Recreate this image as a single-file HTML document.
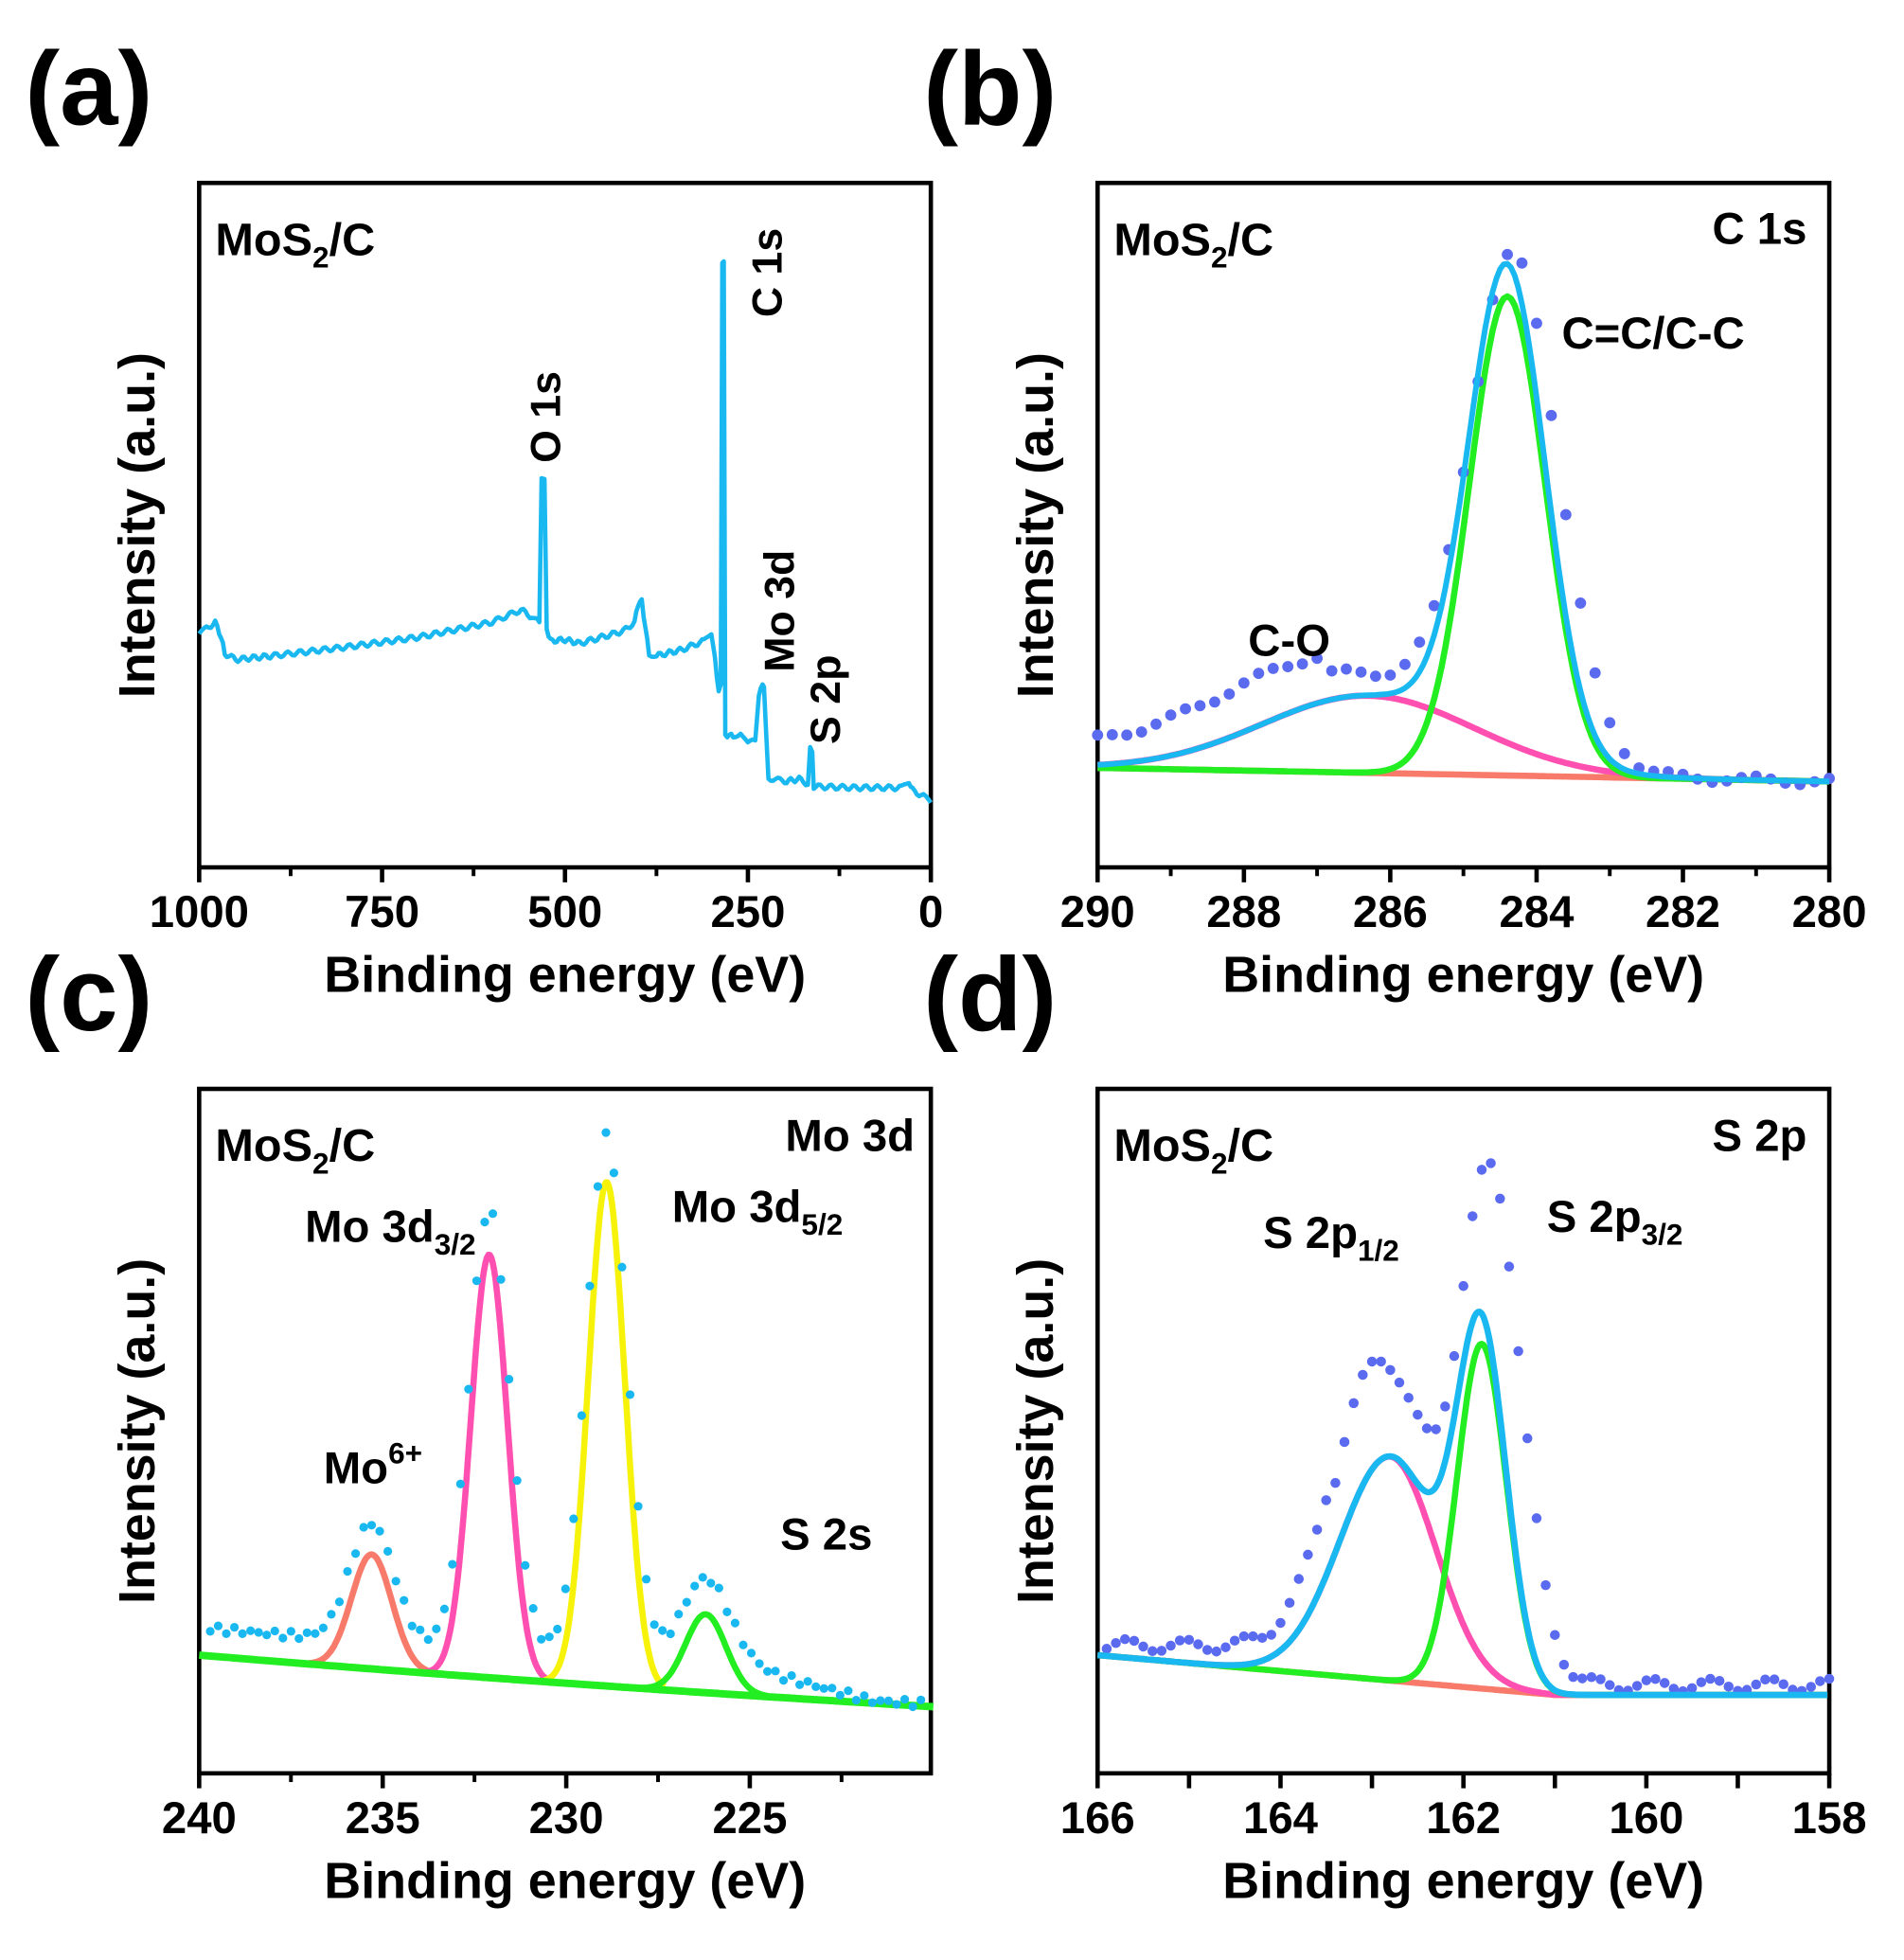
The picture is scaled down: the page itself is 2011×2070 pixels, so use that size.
<!DOCTYPE html>
<html><head><meta charset="utf-8"><style>
html,body{margin:0;padding:0;background:#fff;}
svg{display:block;}
text{font-family:"Liberation Sans",sans-serif;font-weight:bold;fill:#000;}
</style></head><body>
<svg id="s" width="2011" height="2070" viewBox="0 0 1530 1575" xmlns="http://www.w3.org/2000/svg">
<g id="g"></g>
</svg>
<script>
const g=document.getElementById('g');let H='';
function add(s){H+=s;}
function txt(x,y,t,sz,anchor,rot){add(`<text x="${x}" y="${y}" font-size="${sz}" text-anchor="${anchor||'start'}"${rot?` transform="rotate(-90 ${x} ${y})"`:''}>${t}</text>`);}
function poly(pts,col,w){add(`<polyline fill="none" stroke="${col}" stroke-width="${w}" stroke-linejoin="round" points="${pts.map(p=>p[0].toFixed(1)+','+p[1].toFixed(1)).join(' ')}"/>`);}
function dots(pts,col,r){pts.forEach(p=>add(`<circle cx="${p[0].toFixed(1)}" cy="${p[1].toFixed(1)}" r="${r}" fill="${col}"/>`));}
function gau(x,c,s){return Math.exp(-0.5*((x-c)/s)**2);}
function frame(x0,y0,x1,y1,ticks,minor,labels,letter,ly){
 add(`<rect x="${x0}" y="${y0}" width="${x1-x0}" height="${y1-y0}" fill="none" stroke="#000" stroke-width="3.5"/>`);
 ticks.forEach(t=>add(`<line x1="${t}" y1="${y1}" x2="${t}" y2="${y1+12}" stroke="#000" stroke-width="3.5"/>`));
 minor.forEach(t=>add(`<line x1="${t}" y1="${y1}" x2="${t}" y2="${y1+7}" stroke="#000" stroke-width="3"/>`));
 labels.forEach(l=>txt(l[0],y1+48,l[1],36,'middle'));
 txt((x0+x1)/2,y1+100,'Binding energy (eV)',41,'middle');
 txt(x0-36,(y0+y1)/2,'Intensity (a.u.)',41,'middle',true);
 txt(x0-140,ly,letter,84,'start');
 txt(x0+13,y0+58,'MoS<tspan font-size="24" dy="10">2</tspan><tspan dy="-10">/C</tspan>',37);
}
// (a)
frame(160,147,748,697,[160,307,454,601,748],[233.5,380.5,527.5,674.5],[[160,'1000'],[307,'750'],[454,'500'],[601,'250'],[748,'0']],'(a)',100);
let A=[[1000,510],[990,505],[978,500],[970,512],[965,525],[950,530],[900,527],[800,520],[700,512],[600,500],[560,490],[545,496],[535,500],[532,385],[528,385],[525,505],[520,515],[500,514],[480,517],[450,512],[420,507],[405,500],[400,485],[395,483],[390,505],[385,525],[375,527],[340,522],[310,515],[300,508],[295,530],[290,555],[287,550],[285,210],[283,210],[281,590],[270,592],[260,588],[250,598],[240,595],[235,560],[230,548],[228,552],[225,590],[222,625],[200,628],[180,626],[168,630],[165,602],[162,606],[160,632],[100,633],[40,633],[30,628],[25,635],[10,640],[0,645]];
let Ap=[];for(let i=0;i<A.length-1;i++){let [e0,y0]=A[i],[e1,y1]=A[i+1];let n=Math.max(1,Math.round((e0-e1)/3));for(let k=0;k<n;k++){let e=e0+(e1-e0)*k/n,y=y0+(y1-y0)*k/n;if(Math.abs(y1-y0)<30)y+=Math.sin(e*1.7)*2;Ap.push([160+(1000-e)*0.588,y]);}}
Ap.push([748,645]);poly(Ap,'#1ab8f0',3.5);
txt(450,372,'O 1s',34,'start',true);txt(628,255,'C 1s',34,'start',true);txt(638,540,'Mo 3d',34,'start',true);txt(675,598,'S 2p',34,'start',true);
// (b)
frame(882,147,1470,697,[882,999.6,1117.2,1234.8,1352.4,1470],[940.8,1058.4,1176,1293.6,1411.2],[[882,'290'],[999.6,'288'],[1117.2,'286'],[1234.8,'284'],[1352.4,'282'],[1470,'280']],'(b)',100);
{let X=e=>882+(290-e)*58.8;let bg=e=>617+(290-e)*1.1;let G=[],P=[],B=[],E=[],D=[];
for(let e=290;e>=280-1e-9;e-=0.05){let b=bg(e);let gr=385*gau(e,284.4,0.52);let pk=62*gau(e,286.3,1.45);B.push([X(e),b]);G.push([X(e),b-gr]);P.push([X(e),b-pk]);E.push([X(e),b-gr-pk]);}
for(let e=290;e>=280;e-=0.2){let b=bg(e);let v=b-390*gau(e,284.3,0.6)-80*gau(e,286.6,1.6)-(e>287?15:0);D.push([X(e),v+Math.sin(e*37)*3]);}
poly(B,'#f87a6a',5);poly(P,'#ff4fb0',5);poly(G,'#22ee22',5);dots(D,'#5b6bf0',4.5);poly(E,'#1ab8f0',4.5);}
txt(1452,196,'C 1s',36,'end');txt(1255,280,'C=C/C-C',36);txt(1003,527,'C-O',36);
// (c)
frame(160,875,748,1425,[160,307.5,455,602.5],[233.75,381.25,528.75,676.25],[[160,'240'],[307.5,'235'],[455,'230'],[602.5,'225']],'(c)',828);
{let X=e=>160+(240-e)*29.5;let bg=e=>{let t=(240-e)/18;return 1330+t*44-t*t*6;};let Gb=[],S=[],M6=[],M3=[],M5=[],D=[];
for(let e=240;e>=220;e-=0.04){let b=bg(e);Gb.push([X(e),b]);}
function pk(c,h,s,lo,hi,arr){for(let e=hi;e>=lo;e-=0.04)arr.push([X(e),bg(e)-h*gau(e,c,s)]);}
pk(235.3,92,0.55,233.5,237,M6);pk(232.1,340,0.5,230.5,234,M3);pk(228.9,405,0.5,227.3,230.6,M5);pk(226.2,63,0.55,224.5,228,S);
for(let e=239.7;e>=220.3;e-=0.22){let b=bg(e);let v=b-22-95*gau(e,235.3,0.6)-355*gau(e,232.1,0.55)-420*gau(e,228.9,0.55)-70*gau(e,226.2,0.65)+(e<225?Math.min(20,(225-e)*6):0);D.push([X(e),v+Math.sin(e*41)*3]);}
poly(M6,'#f87a6a',5);poly(M3,'#ff4fb0',5);poly(M5,'#f7f20a',5);poly(S,'#22ee22',5);poly(Gb,'#22ee22',6);dots(D,'#1ab8f0',3.5);}
txt(735,925,'Mo 3d',36,'end');txt(245,998,'Mo 3d<tspan font-size="24" dy="10">3/2</tspan>',36);txt(540,982,'Mo 3d<tspan font-size="24" dy="10">5/2</tspan>',36);txt(260,1192,'Mo<tspan font-size="24" dy="-16">6+</tspan>',36);txt(627,1245,'S 2s',36);
// (d)
frame(882,875,1470,1425,[882,955.5,1029,1102.5,1176,1249.5,1323,1396.5,1470],[],[[882,'166'],[1029,'164'],[1176,'162'],[1323,'160'],[1470,'158']],'(d)',828);
{let X=e=>882+(166-e)*73.5;let bg=e=>e>161?1330+(166-e)*6.4:1362;let B=[],P=[],G=[],E=[],D=[];
for(let e=166;e>=158;e-=0.02){let b=bg(e);let s=e>162.8?0.55:0.5;let p=180*gau(e,162.8,s);let gr=277*gau(e,161.8,0.27);B.push([X(e),b]);P.push([X(e),b-p]);G.push([X(e),b-gr]);E.push([X(e),b-p-gr]);}
for(let e=165.9;e>=158;e-=0.1){let b=bg(e);let v=b-8-Math.max(0,(166-e))*6*(e>163.5?1:0)-250*gau(e,162.9,0.5)-400*gau(e,161.7,0.33);D.push([X(e),v+Math.sin(e*53)*5]);}
poly(B,'#f87a6a',5);poly(P,'#ff4fb0',5);poly(G,'#22ee22',5);dots(D,'#5b6bf0',4);poly(E,'#1ab8f0',5);}
txt(1452,925,'S 2p',36,'end');txt(1015,1003,'S 2p<tspan font-size="24" dy="10">1/2</tspan>',36);txt(1243,990,'S 2p<tspan font-size="24" dy="10">3/2</tspan>',36);
g.innerHTML=H;
</script>
</body></html>
